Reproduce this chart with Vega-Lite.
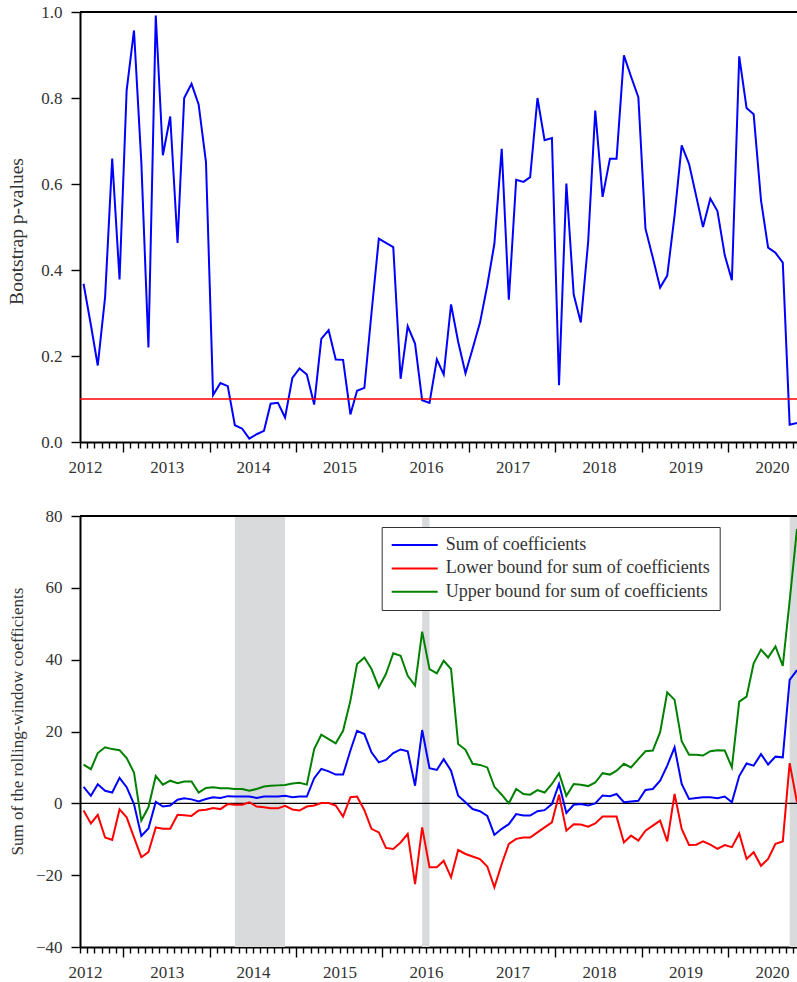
{
  "$schema": "https://vega.github.io/schema/vega-lite/v6.json",
  "background": "white",
  "padding": {"left": 6, "top": 3, "right": 0, "bottom": 0},
  "config": {
    "font": "Liberation Serif",
    "view": {"stroke": null},
    "axis": {
      "labelFont": "Liberation Serif", "titleFont": "Liberation Serif",
      "labelColor": "#333", "titleColor": "#333",
      "labelFontSize": 17, "titleFontSize": 17, "titleFontWeight": "normal",
      "domainColor": "black", "domainWidth": 2, "ticks": true,
      "tickColor": "#000000", "tickWidth": 1.4, "tickOpacity": 1, "grid": false
    }
  },
  "datasets": {
    "m": [
      {"date": "2012-01-16", "p": 0.368, "sum": 4.6, "lower": -2.0, "upper": 10.8},
      {"date": "2012-02-16", "p": 0.272, "sum": 2.1, "lower": -5.6, "upper": 9.5},
      {"date": "2012-03-16", "p": 0.178, "sum": 5.3, "lower": -3.2, "upper": 14.0},
      {"date": "2012-04-16", "p": 0.337, "sum": 3.5, "lower": -9.5, "upper": 15.6},
      {"date": "2012-05-16", "p": 0.659, "sum": 3.0, "lower": -10.2, "upper": 15.1},
      {"date": "2012-06-16", "p": 0.378, "sum": 7.1, "lower": -1.7, "upper": 14.8},
      {"date": "2012-07-16", "p": 0.818, "sum": 4.5, "lower": -3.9, "upper": 12.6},
      {"date": "2012-08-16", "p": 0.957, "sum": -0.2, "lower": -9.5, "upper": 8.6},
      {"date": "2012-09-16", "p": 0.651, "sum": -9.1, "lower": -15.0, "upper": -4.8},
      {"date": "2012-10-16", "p": 0.220, "sum": -7.0, "lower": -13.6, "upper": -1.1},
      {"date": "2012-11-16", "p": 0.992, "sum": 0.4, "lower": -6.7, "upper": 7.6},
      {"date": "2012-12-16", "p": 0.667, "sum": -0.9, "lower": -7.1, "upper": 5.2},
      {"date": "2013-01-16", "p": 0.757, "sum": -0.6, "lower": -7.1, "upper": 6.3},
      {"date": "2013-02-16", "p": 0.463, "sum": 1.0, "lower": -3.2, "upper": 5.6},
      {"date": "2013-03-16", "p": 0.800, "sum": 1.4, "lower": -3.3, "upper": 6.1},
      {"date": "2013-04-16", "p": 0.833, "sum": 1.1, "lower": -3.5, "upper": 6.1},
      {"date": "2013-05-16", "p": 0.785, "sum": 0.5, "lower": -2.0, "upper": 3.0},
      {"date": "2013-06-16", "p": 0.651, "sum": 1.2, "lower": -1.8, "upper": 4.3},
      {"date": "2013-07-16", "p": 0.109, "sum": 1.7, "lower": -1.3, "upper": 4.5},
      {"date": "2013-08-16", "p": 0.137, "sum": 1.5, "lower": -1.6, "upper": 4.2},
      {"date": "2013-09-16", "p": 0.130, "sum": 2.0, "lower": -0.2, "upper": 4.2},
      {"date": "2013-10-16", "p": 0.039, "sum": 1.9, "lower": -0.4, "upper": 4.0},
      {"date": "2013-11-16", "p": 0.031, "sum": 1.9, "lower": -0.4, "upper": 4.0},
      {"date": "2013-12-16", "p": 0.008, "sum": 1.9, "lower": 0.3, "upper": 3.5},
      {"date": "2014-01-16", "p": 0.018, "sum": 1.5, "lower": -0.9, "upper": 4.0},
      {"date": "2014-02-16", "p": 0.026, "sum": 1.9, "lower": -1.1, "upper": 4.7},
      {"date": "2014-03-16", "p": 0.089, "sum": 1.9, "lower": -1.4, "upper": 4.9},
      {"date": "2014-04-16", "p": 0.091, "sum": 1.9, "lower": -1.4, "upper": 5.0},
      {"date": "2014-05-16", "p": 0.057, "sum": 2.1, "lower": -0.7, "upper": 5.1},
      {"date": "2014-06-16", "p": 0.149, "sum": 1.7, "lower": -1.7, "upper": 5.5},
      {"date": "2014-07-16", "p": 0.171, "sum": 1.9, "lower": -2.0, "upper": 5.7},
      {"date": "2014-08-16", "p": 0.157, "sum": 1.9, "lower": -0.9, "upper": 5.2},
      {"date": "2014-09-16", "p": 0.087, "sum": 7.0, "lower": -0.6, "upper": 15.1},
      {"date": "2014-10-16", "p": 0.240, "sum": 9.6, "lower": 0.1, "upper": 19.1},
      {"date": "2014-11-16", "p": 0.260, "sum": 8.9, "lower": 0.1, "upper": 17.9},
      {"date": "2014-12-16", "p": 0.192, "sum": 8.0, "lower": -0.6, "upper": 16.7},
      {"date": "2015-01-16", "p": 0.191, "sum": 8.0, "lower": -3.7, "upper": 20.2},
      {"date": "2015-02-16", "p": 0.064, "sum": 14.7, "lower": 1.7, "upper": 28.6},
      {"date": "2015-03-16", "p": 0.119, "sum": 20.2, "lower": 1.9, "upper": 38.8},
      {"date": "2015-04-16", "p": 0.126, "sum": 19.3, "lower": -1.9, "upper": 40.6},
      {"date": "2015-05-16", "p": 0.300, "sum": 14.2, "lower": -7.1, "upper": 37.4},
      {"date": "2015-06-16", "p": 0.473, "sum": 11.4, "lower": -8.1, "upper": 32.3},
      {"date": "2015-07-16", "p": 0.463, "sum": 12.1, "lower": -12.4, "upper": 36.0},
      {"date": "2015-08-16", "p": 0.453, "sum": 14.0, "lower": -12.7, "upper": 41.8},
      {"date": "2015-09-16", "p": 0.147, "sum": 15.0, "lower": -10.9, "upper": 41.1},
      {"date": "2015-10-16", "p": 0.269, "sum": 14.5, "lower": -8.5, "upper": 35.5},
      {"date": "2015-11-16", "p": 0.229, "sum": 4.9, "lower": -22.5, "upper": 32.8},
      {"date": "2015-12-16", "p": 0.097, "sum": 20.4, "lower": -6.7, "upper": 47.8},
      {"date": "2016-01-16", "p": 0.091, "sum": 9.8, "lower": -17.8, "upper": 37.4},
      {"date": "2016-02-16", "p": 0.192, "sum": 9.3, "lower": -17.8, "upper": 36.2},
      {"date": "2016-03-16", "p": 0.157, "sum": 12.3, "lower": -16.0, "upper": 39.7},
      {"date": "2016-04-16", "p": 0.320, "sum": 9.1, "lower": -20.6, "upper": 37.4},
      {"date": "2016-05-16", "p": 0.233, "sum": 2.1, "lower": -13.0, "upper": 16.5},
      {"date": "2016-06-16", "p": 0.160, "sum": 0.3, "lower": -14.1, "upper": 14.9},
      {"date": "2016-07-16", "p": 0.217, "sum": -1.6, "lower": -14.8, "upper": 11.0},
      {"date": "2016-08-16", "p": 0.277, "sum": -2.2, "lower": -15.5, "upper": 10.7},
      {"date": "2016-09-16", "p": 0.364, "sum": -3.5, "lower": -17.6, "upper": 10.0},
      {"date": "2016-10-16", "p": 0.461, "sum": -8.8, "lower": -23.4, "upper": 4.6},
      {"date": "2016-11-16", "p": 0.682, "sum": -7.1, "lower": -16.9, "upper": 2.4},
      {"date": "2016-12-16", "p": 0.331, "sum": -5.8, "lower": -11.3, "upper": 0.0},
      {"date": "2017-01-16", "p": 0.610, "sum": -3.0, "lower": -9.9, "upper": 4.0},
      {"date": "2017-02-16", "p": 0.605, "sum": -3.4, "lower": -9.5, "upper": 2.6},
      {"date": "2017-03-16", "p": 0.616, "sum": -3.4, "lower": -9.5, "upper": 2.4},
      {"date": "2017-04-16", "p": 0.800, "sum": -2.2, "lower": -8.1, "upper": 3.7},
      {"date": "2017-05-16", "p": 0.702, "sum": -1.9, "lower": -6.7, "upper": 3.0},
      {"date": "2017-06-16", "p": 0.707, "sum": -0.2, "lower": -5.3, "upper": 5.4},
      {"date": "2017-07-16", "p": 0.132, "sum": 5.4, "lower": 2.4, "upper": 8.4},
      {"date": "2017-08-16", "p": 0.601, "sum": -2.7, "lower": -7.6, "upper": 2.1},
      {"date": "2017-09-16", "p": 0.343, "sum": -0.4, "lower": -5.8, "upper": 5.4},
      {"date": "2017-10-16", "p": 0.278, "sum": -0.2, "lower": -5.9, "upper": 5.2},
      {"date": "2017-11-16", "p": 0.465, "sum": -0.6, "lower": -6.5, "upper": 4.8},
      {"date": "2017-12-16", "p": 0.771, "sum": 0.0, "lower": -5.6, "upper": 5.8},
      {"date": "2018-01-16", "p": 0.570, "sum": 2.2, "lower": -3.7, "upper": 8.4},
      {"date": "2018-02-16", "p": 0.659, "sum": 2.0, "lower": -3.7, "upper": 8.0},
      {"date": "2018-03-16", "p": 0.659, "sum": 2.6, "lower": -3.7, "upper": 9.1},
      {"date": "2018-04-16", "p": 0.899, "sum": 0.3, "lower": -10.9, "upper": 11.0},
      {"date": "2018-05-16", "p": 0.850, "sum": 0.5, "lower": -9.0, "upper": 10.0},
      {"date": "2018-06-16", "p": 0.802, "sum": 0.7, "lower": -10.4, "upper": 12.3},
      {"date": "2018-07-16", "p": 0.496, "sum": 3.7, "lower": -7.6, "upper": 14.5},
      {"date": "2018-08-16", "p": 0.429, "sum": 4.0, "lower": -6.2, "upper": 14.7},
      {"date": "2018-09-16", "p": 0.359, "sum": 6.3, "lower": -4.8, "upper": 19.8},
      {"date": "2018-10-16", "p": 0.387, "sum": 10.5, "lower": -10.6, "upper": 30.9},
      {"date": "2018-11-16", "p": 0.527, "sum": 15.6, "lower": 2.6, "upper": 28.8},
      {"date": "2018-12-16", "p": 0.690, "sum": 5.4, "lower": -7.1, "upper": 17.3},
      {"date": "2019-01-16", "p": 0.647, "sum": 1.2, "lower": -11.6, "upper": 13.5},
      {"date": "2019-02-16", "p": 0.570, "sum": 1.5, "lower": -11.5, "upper": 13.5},
      {"date": "2019-03-16", "p": 0.500, "sum": 1.7, "lower": -10.6, "upper": 13.3},
      {"date": "2019-04-16", "p": 0.566, "sum": 1.7, "lower": -11.5, "upper": 14.5},
      {"date": "2019-05-16", "p": 0.537, "sum": 1.4, "lower": -12.7, "upper": 14.8},
      {"date": "2019-06-16", "p": 0.434, "sum": 1.9, "lower": -11.6, "upper": 14.7},
      {"date": "2019-07-16", "p": 0.376, "sum": 0.3, "lower": -12.2, "upper": 10.0},
      {"date": "2019-08-16", "p": 0.897, "sum": 7.6, "lower": -8.4, "upper": 28.3},
      {"date": "2019-09-16", "p": 0.777, "sum": 11.1, "lower": -15.5, "upper": 29.7},
      {"date": "2019-10-16", "p": 0.762, "sum": 10.5, "lower": -13.6, "upper": 39.0},
      {"date": "2019-11-16", "p": 0.562, "sum": 13.7, "lower": -17.4, "upper": 42.8},
      {"date": "2019-12-16", "p": 0.452, "sum": 10.8, "lower": -15.5, "upper": 40.6},
      {"date": "2020-01-16", "p": 0.440, "sum": 13.0, "lower": -11.3, "upper": 43.7},
      {"date": "2020-02-16", "p": 0.417, "sum": 12.8, "lower": -10.6, "upper": 38.3},
      {"date": "2020-03-16", "p": 0.040, "sum": 34.4, "lower": 11.2, "upper": 56.4},
      {"date": "2020-04-16", "p": 0.044, "sum": 37.1, "lower": 0.3, "upper": 76.4}
    ],
    "shade": [
      {"start": "2013-10-16", "end": "2014-05-16"},
      {"start": "2015-12-16", "end": "2016-01-16"},
      {"start": "2020-03-16", "end": "2020-04-16"}
    ]
  },
  "spacing": 74,
  "bounds": "flush",
  "resolve": {"scale": {"x": "independent", "y": "independent", "color": "independent"}},
  "vconcat": [
    {
      "width": 717,
      "height": 430,
      "layer": [
        {
          "data": {"name": "m"},
          "mark": {"type": "line", "color": "#0000ff", "strokeWidth": 2, "clip": true},
          "encoding": {
            "x": {
              "field": "date", "type": "temporal",
              "scale": {"type": "utc", "nice": false, "domain": [{"year": 2012, "month": 1, "date": 1, "utc": true}, {"year": 2020, "month": 4, "date": 16, "utc": true}]},
              "axis": {
                "title": null,
                "tickCount": {"interval": "month", "step": 1},
                "labelExpr": "utcmonth(datum.value) == 0 ? utcFormat(datum.value, '%Y') : ''",
                "tickSize": {"condition": {"test": "utcmonth(datum.value) == 6", "value": 10}, "value": 6},
                "labelOverlap": false,
                "labelFlush": true,
                "labelFlushOffset": 12,
                "labelBound": false,
                "labelPadding": 11
              }
            },
            "y": {
              "field": "p", "type": "quantitative",
              "scale": {"domain": [0, 1], "nice": false},
              "axis": {
                "title": "Bootstrap p-values",
                "titleFontSize": 19.5,
                "values": [0, 0.2, 0.4, 0.6, 0.8, 1.0],
                "format": ".1f",
                "tickSize": 9,
                "labelPadding": 9,
                "titleX": -58,
                "titleY": 219,
                "titleBaseline": "alphabetic",
                "titleAngle": 270
              }
            }
          }
        },
        {
          "data": {"values": [{}]},
          "mark": {"type": "rule", "color": "#ff0000", "strokeWidth": 1.5},
          "encoding": {"y": {"datum": 0.1}}
        },
        {
          "data": {"values": [{}]},
          "mark": {"type": "rule", "color": "black", "strokeWidth": 2},
          "encoding": {"y": {"datum": 1}}
        }
      ]
    },
    {
      "width": 717,
      "height": 431,
      "layer": [
        {
          "data": {"name": "shade"},
          "mark": {"type": "rect", "color": "#d9dadb"},
          "encoding": {
            "x": {
              "field": "start", "type": "temporal",
              "scale": {"type": "utc", "nice": false, "domain": [{"year": 2012, "month": 1, "date": 1, "utc": true}, {"year": 2020, "month": 4, "date": 16, "utc": true}]},
              "axis": {
                "title": null,
                "tickCount": {"interval": "month", "step": 1},
                "labelExpr": "utcmonth(datum.value) == 0 ? utcFormat(datum.value, '%Y') : ''",
                "tickSize": {"condition": {"test": "utcmonth(datum.value) == 6", "value": 10}, "value": 6},
                "labelOverlap": false,
                "labelFlush": true,
                "labelFlushOffset": 12,
                "labelBound": false,
                "labelPadding": 11
              }
            },
            "x2": {"field": "end"}
          }
        },
        {
          "data": {"values": [{}]},
          "mark": {"type": "rule", "color": "black", "strokeWidth": 1.2},
          "encoding": {"y": {"datum": 0}}
        },
        {
          "data": {"name": "m"},
          "transform": [{"fold": ["sum", "lower", "upper"], "as": ["series", "value"]}],
          "mark": {"type": "line", "strokeWidth": 2, "clip": true},
          "encoding": {
            "x": {"field": "date", "type": "temporal"},
            "y": {
              "field": "value", "type": "quantitative",
              "scale": {"domain": [-40, 80], "nice": false},
              "axis": {
                "title": "Sum of the rolling-window coefficients",
                "values": [-40, -20, 0, 20, 40, 60, 80],
                "format": "d",
                "tickSize": 9,
                "labelPadding": 9,
                "titleX": -58,
                "titleY": 205,
                "titleBaseline": "alphabetic",
                "titleAngle": 270
              }
            },
            "color": {
              "field": "series", "type": "nominal",
              "scale": {"domain": ["sum", "lower", "upper"], "range": ["#0000ff", "#ff0000", "#008000"]},
              "legend": {
                "title": null,
                "orient": "none",
                "legendX": 301.7,
                "legendY": 11,
                "direction": "vertical",
                "symbolType": "stroke",
                "symbolSize": 2116,
                "symbolStrokeWidth": 2,
                "clipHeight": 18,
                "rowPadding": 5.4,
                "padding": 9,
                "strokeColor": "#333",
                "fillColor": "white",
                "labelFont": "Liberation Serif",
                "labelFontSize": 18,
                "labelColor": "#333",
                "labelOffset": 7,
                "labelLimit": 400,
                "labelExpr": "datum.label == 'sum' ? 'Sum of coefficients' : datum.label == 'lower' ? 'Lower bound for sum of coefficients' : 'Upper bound for sum of coefficients'"
              }
            }
          }
        },
        {
          "data": {"values": [{}]},
          "mark": {"type": "rule", "color": "black", "strokeWidth": 2},
          "encoding": {"y": {"datum": 80}}
        }
      ]
    }
  ]
}
